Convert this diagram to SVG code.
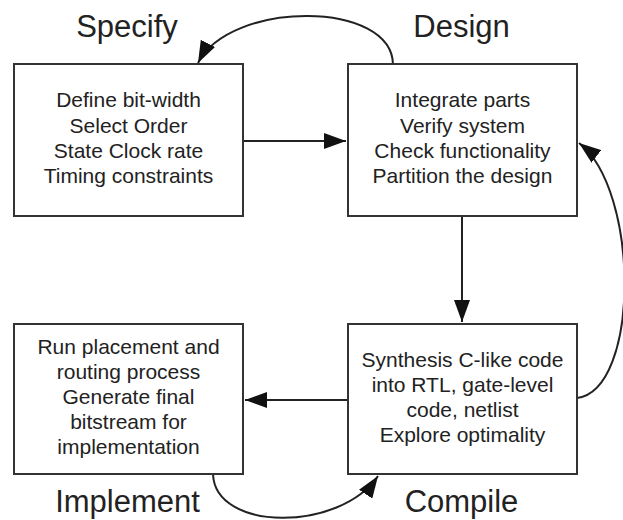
<svg xmlns="http://www.w3.org/2000/svg" width="623" height="520" viewBox="0 0 623 520">
<style>
.box{fill:#fff;stroke:#333;stroke-width:2}
.t{font-family:"Liberation Sans",Arial,sans-serif;font-size:21px;fill:#222;text-anchor:middle}
.lbl{font-family:"Liberation Sans",Arial,sans-serif;font-size:31px;fill:#222;text-anchor:middle}
.c{fill:none;stroke:#222;stroke-width:2}
</style>
<defs>
<marker id="ah" markerUnits="userSpaceOnUse" viewBox="0 0 22 16" refX="22" refY="8" markerWidth="22" markerHeight="16" orient="auto">
<path d="M0,0 L22,8 L0,16 Z" fill="#111"/>
</marker>
</defs>
<rect width="623" height="520" fill="#fff"/>
<g id="connectors">
<path class="c" d="M243,141 L346,141" marker-end="url(#ah)"/>
<path class="c" d="M462,216 L462,322" marker-end="url(#ah)"/>
<path class="c" d="M348,400 L245,400" marker-end="url(#ah)"/>
<path class="c" d="M393,65 C393,0 230,0 198,63" marker-end="url(#ah)"/>
<path class="c" d="M577,398 C640,390 640,190 579,143" marker-end="url(#ah)"/>
<path class="c" d="M213,474 C215,532 340,532 378,476" marker-end="url(#ah)"/>
</g>
<g id="specify">
<rect class="box" x="14" y="64" width="229" height="152"/>
<text class="t" x="128.5" y="107">Define bit-width</text>
<text class="t" x="128.5" y="133">Select Order</text>
<text class="t" x="128.5" y="158">State Clock rate</text>
<text class="t" x="128.5" y="183">Timing constraints</text>
<text class="lbl" x="127" y="37">Specify</text>
</g>
<g id="design">
<rect class="box" x="348" y="64" width="229" height="152"/>
<text class="t" x="462.5" y="107">Integrate parts</text>
<text class="t" x="462.5" y="133">Verify system</text>
<text class="t" x="462.5" y="158">Check functionality</text>
<text class="t" x="462.5" y="183">Partition the design</text>
<text class="lbl" x="461.5" y="37">Design</text>
</g>
<g id="implement">
<rect class="box" x="14" y="324" width="229" height="150"/>
<text class="t" x="128.5" y="354">Run placement and</text>
<text class="t" x="128.5" y="379">routing process</text>
<text class="t" x="128.5" y="404">Generate final</text>
<text class="t" x="128.5" y="429">bitstream for</text>
<text class="t" x="128.5" y="454">implementation</text>
<text class="lbl" x="127.5" y="512">Implement</text>
</g>
<g id="compile">
<rect class="box" x="348" y="324" width="229" height="150"/>
<text class="t" x="462.5" y="367">Synthesis C-like code</text>
<text class="t" x="462.5" y="392">into RTL, gate-level</text>
<text class="t" x="462.5" y="417">code, netlist</text>
<text class="t" x="462.5" y="442">Explore optimality</text>
<text class="lbl" x="461.5" y="512">Compile</text>
</g>
</svg>
